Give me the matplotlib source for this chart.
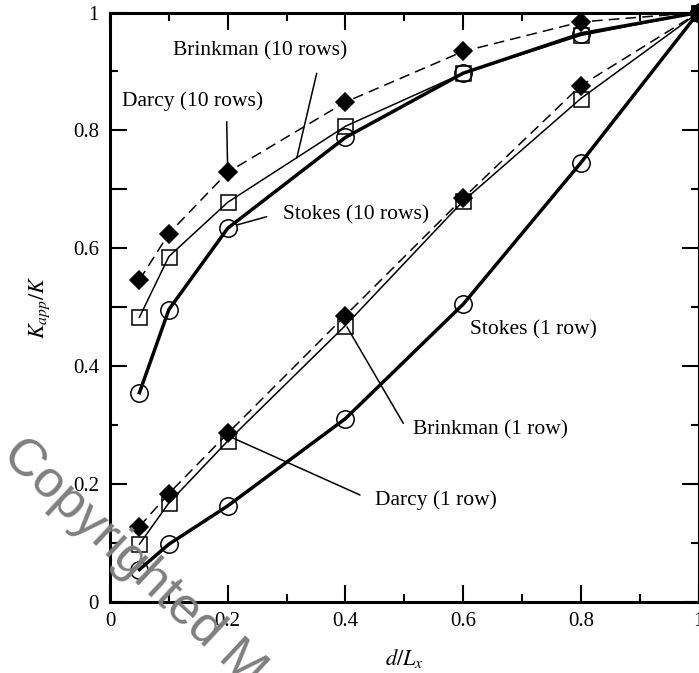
import matplotlib
matplotlib.use('Agg')
import matplotlib.pyplot as plt
from matplotlib.ticker import FixedLocator, NullFormatter

# ---- data ----
x = [0.05, 0.1, 0.2, 0.4, 0.6, 0.8, 1.0]
stokes_1 = [0.055, 0.098, 0.163, 0.311, 0.505, 0.745, 1.0]
darcy_1 = [0.098, 0.168, 0.273, 0.469, 0.680, 0.854, 1.0]
brinkman_1 = [0.128, 0.184, 0.286, 0.486, 0.685, 0.876, 1.0]
stokes_10 = [0.355, 0.496, 0.634, 0.788, 0.897, 0.964, 1.0]
darcy_10 = [0.483, 0.586, 0.678, 0.807, 0.897, 0.961, 1.0]
brinkman_10 = [0.546, 0.625, 0.729, 0.848, 0.934, 0.984, 1.0]

x_ticks = [0, 0.2, 0.4, 0.6, 0.8, 1.0]
x_tick_labels = ['0', '0.2', '0.4', '0.6', '0.8', '1']
y_ticks = [0, 0.2, 0.4, 0.6, 0.8, 1.0]
y_tick_labels = ['0', '0.2', '0.4', '0.6', '0.8', '1']

plt.rcParams['font.family'] = ['Liberation Serif', 'DejaVu Serif']
plt.rcParams['mathtext.fontset'] = 'stix'

W, H = 699, 673
fig = plt.figure(figsize=(W / 100, H / 100), dpi=100)
left, right, bottom, top = 110, 698.5, 602, 12.5
ax = fig.add_axes([left / W, 1 - bottom / H, (right - left) / W, (bottom - top) / H])

thin = 1.1
thick = 2.5
mew = 1.1

# Stokes: thick solid, open circles
for ys in (stokes_1, stokes_10):
    ax.plot(x, ys, '-', color='black', lw=thick, marker='o', ms=12.5,
            mfc='none', mec='black', mew=mew, clip_on=False, zorder=3)
# Darcy: thin solid, open squares
for ys in (darcy_1, darcy_10):
    ax.plot(x, ys, '-', color='black', lw=thin, marker='s', ms=10.8,
            mfc='none', mec='black', mew=mew, clip_on=False, zorder=3)
# Brinkman: dashed, filled diamonds
for ys in (brinkman_1, brinkman_10):
    ax.plot(x, ys, color='black', lw=thin, linestyle=(0, (7, 4)), marker='D', ms=9.4,
            mfc='black', mec='black', mew=mew, clip_on=False, zorder=3)

ax.set_xlim(0, 1)
ax.set_ylim(0, 1)

# spines
for s in ax.spines.values():
    s.set_linewidth(2.2)

# x ticks (bottom + top)
ax.xaxis.set_major_locator(FixedLocator(x_ticks))
ax.set_xticklabels(x_tick_labels)
ax.xaxis.set_minor_locator(FixedLocator([0.1, 0.3, 0.5, 0.7, 0.9]))
ax.tick_params(axis='x', which='both', direction='in', top=True, bottom=True)

# y ticks (left)
ax.yaxis.set_major_locator(FixedLocator([0, 0.2, 0.4, 0.5, 0.6, 0.7, 0.8, 1.0]))
ax.set_yticklabels(['0', '0.2', '0.4', '', '0.6', '', '0.8', '1'])
ax.yaxis.set_minor_locator(FixedLocator([0.1, 0.3, 0.9]))
ax.tick_params(axis='y', which='both', direction='in', left=True, right=False)

ax.tick_params(which='major', length=12, width=1.5, labelsize=15, pad=8)
ax.tick_params(which='minor', length=6, width=1.5)
ax.tick_params(axis='x', which='major', pad=7)

# right axis ticks
sec = ax.secondary_yaxis('right')
sec.yaxis.set_major_locator(FixedLocator(y_ticks))
sec.yaxis.set_minor_locator(FixedLocator([0.1, 0.3, 0.5, 0.7, 0.9]))
sec.yaxis.set_major_formatter(NullFormatter())
sec.tick_params(which='both', direction='in', width=1.5)
sec.tick_params(which='major', length=12)
sec.tick_params(which='minor', length=6)
sec.spines['right'].set_linewidth(2.2)

# axis labels
ax.set_xlabel('$d/L_x$', fontsize=16)
ax.xaxis.set_label_coords(0.5, (bottom - 659) / (bottom - top))
ax.xaxis.label.set_va('center')
ax.set_ylabel('$K_{app}/K$', fontsize=16)
ax.yaxis.set_label_coords((40 - left) / (right - left), 0.5)
ax.yaxis.label.set_va('center')


def px(xp, yp):
    return ((xp - left) / (right - left), (bottom - yp) / (bottom - top))


lead = dict(arrowstyle='-', color='black', lw=1.1, shrinkA=0, shrinkB=0)
fs = 15.5

ax.text(*px(260.5, 51), 'Brinkman (10 rows)', ha='center', va='center', fontsize=fs)
ax.annotate('', xy=px(296.7, 158.3), xytext=px(316.7, 73.3), arrowprops=lead)

ax.text(*px(193, 101), 'Darcy (10 rows)', ha='center', va='center', fontsize=fs)
ax.annotate('', xy=px(227.7, 171.7), xytext=px(226.7, 121.7), arrowprops=lead)

ax.text(*px(283, 215), 'Stokes (10 rows)', ha='left', va='center', fontsize=fs)
ax.annotate('', xy=px(236.7, 225), xytext=px(266.7, 216.7), arrowprops=lead)

ax.text(*px(470, 330), 'Stokes (1 row)', ha='left', va='center', fontsize=fs)

ax.text(*px(413, 430), 'Brinkman (1 row)', ha='left', va='center', fontsize=fs)
ax.annotate('', xy=px(347, 327), xytext=px(403.3, 423.3), arrowprops=lead)

ax.text(*px(375, 500), 'Darcy (1 row)', ha='left', va='center', fontsize=fs)
ax.annotate('', xy=px(230, 436.7), xytext=px(360, 495), arrowprops=lead)

# watermark
fig.text(1 / W, 1 - 457 / H, 'Copyrighted Material', fontsize=37.5, color='#7f7f7f',
         family=['Liberation Sans', 'DejaVu Sans'], rotation=-43,
         rotation_mode='anchor', ha='left', va='baseline', zorder=10)

fig.savefig('out.png', dpi=100)
